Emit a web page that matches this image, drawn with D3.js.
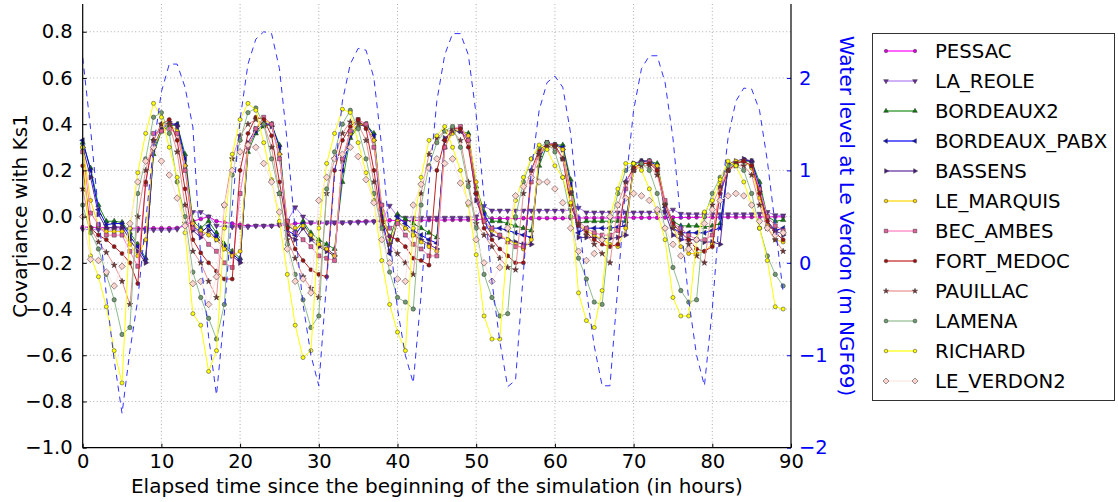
<!DOCTYPE html>
<html><head><meta charset="utf-8">
<script src="https://cdn.jsdelivr.net/npm/d3@7"></script>
<style>body{margin:0;background:#fff}svg{display:block}text{font-family:"DejaVu Sans",sans-serif}</style>
</head><body><svg id="c" width="1118" height="502"></svg>
<script>
const hours = d3.range(0, 90);
const xTicks = [0,10,20,30,40,50,60,70,80,90];
const yTicks = [-1.0,-0.8,-0.6,-0.4,-0.2,0.0,0.2,0.4,0.6,0.8];
const yTicksRight = [-2,-1,0,1,2];
const names = ["PESSAC","LA_REOLE","BORDEAUX2","BORDEAUX_PABX","BASSENS","LE_MARQUIS","BEC_AMBES","FORT_MEDOC","PAUILLAC","LAMENA","RICHARD","LE_VERDON2"];

const PESSAC = [-0.045,-0.046,-0.047,-0.048,-0.048,-0.049,-0.05,-0.05,-0.05,-0.05,-0.05,-0.05,-0.049,-0.04,-0.02,-0.01,0.0,-0.02,-0.025,-0.03,-0.035,-0.04,-0.04,-0.04,-0.04,-0.038,-0.035,-0.03,-0.028,-0.028,-0.028,-0.028,-0.028,-0.027,-0.025,-0.022,-0.02,-0.02,-0.02,-0.016,-0.017,-0.017,-0.016,-0.016,-0.015,-0.015,-0.015,-0.014,-0.014,-0.014,-0.013,-0.01,-0.008,-0.008,-0.008,-0.008,-0.007,-0.007,-0.007,-0.007,-0.007,-0.007,-0.007,-0.006,-0.006,-0.006,-0.006,-0.006,-0.005,-0.005,-0.005,-0.005,-0.005,-0.005,-0.004,-0.004,-0.004,-0.004,-0.003,-0.003,-0.003,-0.003,-0.002,-0.002,-0.002,-0.002,-0.002,-0.001,-0.001,-0.001];
const LA_REOLE = [-0.055,-0.056,-0.057,-0.058,-0.058,-0.058,-0.058,-0.058,-0.058,-0.058,-0.058,-0.058,-0.055,-0.03,0.02,0.02,0.0,-0.04,-0.045,-0.045,-0.045,-0.045,-0.04,-0.04,-0.04,-0.035,-0.02,0.04,0.0,-0.025,-0.025,-0.025,-0.025,-0.025,-0.025,-0.025,-0.025,-0.022,-0.02,0.047,0.0,-0.005,-0.005,-0.005,-0.005,-0.005,-0.005,-0.005,-0.005,-0.005,0.0,0.046,0.026,0.026,0.026,0.026,0.026,0.026,0.026,0.026,0.026,0.026,0.028,0.038,0.018,0.018,0.018,0.018,0.018,0.018,0.018,0.018,0.018,0.018,0.02,0.03,0.012,0.01,0.01,0.01,0.01,0.01,0.01,0.01,0.01,0.01,0.012,0.02,0.006,0.005];
const BORDEAUX2 = [0.32,0.21,0.05,-0.02,-0.02,-0.025,-0.07,-0.12,-0.18,0.27,0.37,0.39,0.40,0.27,-0.02,-0.05,-0.02,-0.07,-0.12,-0.15,-0.18,0.28,0.36,0.39,0.40,0.31,-0.04,-0.06,-0.02,-0.07,-0.10,-0.12,-0.14,0.15,0.34,0.39,0.40,0.36,0.03,-0.10,0.01,-0.01,-0.03,-0.05,-0.07,-0.09,0.30,0.37,0.37,0.36,0.13,0.02,-0.02,-0.02,-0.03,-0.04,-0.05,-0.06,0.22,0.31,0.31,0.31,0.16,-0.03,-0.02,-0.02,-0.02,-0.02,-0.02,-0.02,0.20,0.24,0.24,0.23,0.06,-0.02,-0.04,-0.04,-0.04,-0.045,-0.04,-0.03,0.20,0.23,0.24,0.24,0.15,0.00,-0.02,-0.015];
const BORDEAUX_PABX = [0.33,0.20,0.03,-0.035,-0.03,-0.03,-0.085,-0.13,-0.19,0.29,0.375,0.40,0.40,0.25,-0.04,-0.07,-0.04,-0.085,-0.13,-0.16,-0.19,0.30,0.37,0.40,0.40,0.30,-0.06,-0.08,-0.03,-0.085,-0.12,-0.14,-0.165,0.20,0.35,0.40,0.40,0.35,0.00,-0.16,0.00,-0.03,-0.06,-0.08,-0.10,-0.115,0.33,0.37,0.37,0.35,0.10,0.01,-0.05,-0.05,-0.06,-0.07,-0.08,-0.09,0.25,0.32,0.31,0.30,0.14,-0.07,-0.05,-0.05,-0.05,-0.05,-0.045,-0.04,0.22,0.24,0.24,0.22,0.04,-0.05,-0.07,-0.07,-0.07,-0.07,-0.06,-0.05,0.22,0.23,0.245,0.24,0.13,-0.02,-0.06,-0.05];
const BASSENS = [0.30,0.17,0.01,-0.05,-0.045,-0.045,-0.10,-0.15,-0.20,0.30,0.38,0.41,0.39,0.22,-0.06,-0.09,-0.06,-0.10,-0.14,-0.17,-0.20,0.32,0.38,0.41,0.39,0.27,-0.08,-0.10,-0.05,-0.10,-0.13,-0.15,-0.17,0.24,0.36,0.40,0.39,0.33,-0.03,-0.15,-0.02,-0.05,-0.08,-0.10,-0.12,-0.14,0.34,0.37,0.37,0.33,0.07,-0.02,-0.08,-0.09,-0.10,-0.11,-0.12,-0.12,0.26,0.32,0.31,0.29,0.11,-0.09,-0.09,-0.09,-0.095,-0.095,-0.09,-0.08,0.23,0.24,0.24,0.21,0.02,-0.08,-0.10,-0.10,-0.10,-0.11,-0.11,-0.12,0.23,0.24,0.25,0.24,0.11,-0.04,-0.06,-0.08];
const LE_MARQUIS = [0.30,0.07,-0.04,-0.065,-0.065,-0.065,-0.12,-0.17,-0.10,0.30,0.37,0.40,0.37,0.22,-0.03,-0.06,-0.08,-0.10,-0.14,-0.17,-0.15,0.30,0.38,0.42,0.40,0.27,-0.02,-0.05,-0.04,-0.08,-0.12,-0.14,-0.17,0.25,0.36,0.40,0.40,0.33,0.05,-0.12,-0.02,-0.05,-0.08,-0.11,-0.13,-0.15,0.30,0.36,0.38,0.35,0.15,-0.02,-0.06,-0.08,-0.10,-0.12,-0.14,-0.10,0.27,0.31,0.31,0.29,0.12,-0.03,-0.06,-0.08,-0.10,-0.12,-0.13,-0.05,0.21,0.23,0.23,0.22,0.06,-0.04,-0.13,-0.16,-0.16,-0.15,-0.12,0.15,0.21,0.24,0.24,0.21,0.08,-0.04,-0.10,-0.11];
const BEC_AMBES = [0.28,0.015,-0.035,-0.08,-0.08,-0.08,-0.15,-0.215,0.14,0.36,0.37,0.38,0.36,0.20,-0.05,-0.075,-0.12,-0.15,-0.20,-0.22,0.10,0.30,0.38,0.43,0.40,0.25,-0.02,-0.07,-0.10,-0.13,-0.17,-0.18,-0.19,0.25,0.37,0.42,0.40,0.30,0.05,-0.05,-0.03,-0.08,-0.12,-0.14,-0.17,-0.17,0.30,0.38,0.39,0.33,0.10,-0.02,-0.05,-0.08,-0.11,-0.13,-0.13,0.15,0.28,0.32,0.31,0.25,0.10,-0.02,-0.05,-0.07,-0.08,-0.08,-0.06,0.12,0.20,0.23,0.24,0.20,0.07,-0.03,-0.05,-0.08,-0.10,-0.10,-0.08,0.12,0.20,0.23,0.24,0.22,0.12,0.00,-0.04,-0.06];
const FORT_MEDOC = [0.22,-0.05,-0.08,-0.10,-0.13,-0.16,-0.20,-0.29,0.15,0.33,0.40,0.42,0.33,0.12,-0.10,-0.157,-0.20,-0.236,-0.27,-0.27,0.20,0.36,0.43,0.42,0.35,0.15,-0.05,-0.14,-0.19,-0.23,-0.25,-0.26,0.20,0.33,0.39,0.42,0.38,0.20,-0.02,-0.085,-0.10,-0.13,-0.18,-0.19,-0.21,0.20,0.33,0.38,0.38,0.30,0.10,-0.05,-0.10,-0.14,-0.17,-0.20,-0.20,0.20,0.29,0.31,0.31,0.25,0.05,-0.04,-0.07,-0.10,-0.12,-0.13,-0.12,0.15,0.21,0.23,0.23,0.20,0.05,-0.03,-0.07,-0.10,-0.14,-0.15,-0.13,0.10,0.20,0.23,0.24,0.22,0.10,-0.02,-0.07,-0.10];
const PAUILLAC = [0.12,-0.05,-0.11,-0.155,-0.21,-0.28,-0.38,0.00,0.20,0.33,0.40,0.40,0.28,0.05,-0.15,-0.20,-0.28,-0.35,0.05,0.25,0.35,0.40,0.42,0.40,0.30,0.10,-0.10,-0.18,-0.26,-0.31,-0.35,0.10,0.25,0.36,0.41,0.40,0.33,0.15,-0.05,-0.12,-0.16,-0.20,-0.25,0.10,0.27,0.34,0.37,0.37,0.33,0.15,-0.03,-0.08,-0.13,-0.18,-0.22,-0.23,0.10,0.20,0.27,0.30,0.30,0.25,0.10,-0.03,-0.08,-0.12,-0.16,-0.20,0.05,0.15,0.20,0.22,0.22,0.18,0.05,-0.05,-0.08,-0.12,-0.17,-0.20,0.05,0.13,0.20,0.22,0.22,0.18,0.05,-0.05,-0.10,-0.15];
const LAMENA = [0.05,-0.07,-0.14,-0.25,-0.36,-0.51,-0.48,0.10,0.25,0.43,0.45,0.36,0.15,0.0,-0.24,-0.35,-0.44,-0.53,-0.38,0.18,0.33,0.45,0.47,0.40,0.25,0.10,-0.12,-0.25,-0.36,-0.48,-0.43,0.12,0.28,0.40,0.46,0.38,0.25,0.10,-0.05,-0.24,-0.35,-0.37,-0.40,0.05,0.22,0.32,0.37,0.39,0.30,0.13,-0.05,-0.25,-0.35,-0.43,-0.42,0.00,0.15,0.25,0.30,0.32,0.28,0.17,0.00,-0.18,-0.27,-0.37,-0.38,-0.05,0.10,0.20,0.23,0.23,0.20,0.10,-0.05,-0.22,-0.32,-0.37,-0.36,0.00,0.10,0.17,0.22,0.22,0.20,0.10,-0.05,-0.17,-0.25,-0.30];
const RICHARD = [0.30,-0.17,-0.26,-0.39,-0.58,-0.72,-0.05,0.19,0.36,0.49,0.43,0.30,0.17,-0.07,-0.42,-0.47,-0.67,-0.58,-0.05,0.27,0.42,0.49,0.46,0.32,0.16,-0.02,-0.25,-0.47,-0.61,-0.58,-0.05,0.23,0.36,0.465,0.45,0.32,0.19,0.07,-0.19,-0.38,-0.50,-0.58,-0.05,0.17,0.33,0.35,0.39,0.30,0.20,0.05,-0.165,-0.43,-0.53,-0.53,-0.10,0.07,0.17,0.25,0.31,0.29,0.22,0.17,0.06,-0.33,-0.45,-0.48,-0.32,0.00,0.12,0.23,0.23,0.20,0.12,0.02,-0.10,-0.35,-0.43,-0.43,-0.10,0.02,0.07,0.16,0.24,0.22,0.15,0.05,-0.05,-0.19,-0.39,-0.40];
const LE_VERDON2 = [0.00,-0.185,-0.19,-0.24,-0.30,-0.215,-0.03,0.15,0.24,0.30,0.24,0.18,0.08,-0.04,-0.29,-0.28,-0.38,-0.26,0.05,0.20,0.28,0.31,0.30,0.23,0.15,0.02,-0.14,-0.28,-0.27,-0.33,0.07,0.17,0.25,0.27,0.30,0.26,0.16,0.06,-0.10,-0.20,-0.27,-0.28,0.05,0.14,0.21,0.25,0.23,0.25,0.145,0.06,-0.10,-0.20,-0.28,-0.22,-0.05,0.09,0.13,0.17,0.15,0.15,0.12,0.06,-0.05,-0.15,-0.19,-0.16,-0.10,0.00,0.05,0.08,0.10,0.09,0.07,0.03,-0.05,-0.12,-0.17,-0.14,-0.10,-0.03,0.03,0.07,0.09,0.10,0.09,0.05,-0.02,-0.05,-0.08,-0.07];
const WATER_LEVEL = [2.22,1.45,0.55,-0.35,-1.05,-1.63,-0.95,-0.4,0.45,1.25,1.85,2.15,2.15,1.9,1.47,0.05,-0.8,-1.43,-0.55,0.6,1.55,2.15,2.42,2.5,2.48,2.1,1.3,0.35,-0.45,-1.0,-1.33,-0.2,0.95,1.75,2.15,2.32,2.3,2.0,1.25,0.3,-0.5,-1.0,-1.30,-0.35,0.85,1.75,2.25,2.48,2.48,2.25,1.6,0.7,-0.2,-0.85,-1.34,-1.27,-0.1,1.0,1.65,1.95,2.02,1.9,1.4,0.55,-0.3,-0.9,-1.33,-1.33,-0.25,0.85,1.65,2.1,2.24,2.24,1.95,1.35,0.45,-0.4,-1.0,-1.33,-0.5,0.6,1.35,1.75,1.89,1.88,1.65,1.1,0.4,-0.32];

const seriesValues = [PESSAC,LA_REOLE,BORDEAUX2,BORDEAUX_PABX,BASSENS,LE_MARQUIS,BEC_AMBES,FORT_MEDOC,PAUILLAC,LAMENA,RICHARD,LE_VERDON2];
const styles = [
  {line:"#ff00ff", fill:"#dd00dd", m:"circle", s:12},
  {line:"#b07cf0", fill:"#6a2ca0", m:"tdown", s:12},
  {line:"#1a8c1a", fill:"#0a7a0a", m:"tup", s:12},
  {line:"#0000ff", fill:"#1010c0", m:"tleft", s:12},
  {line:"#5a2a9a", fill:"#4b1a80", m:"tright", s:12},
  {line:"#ffd700", fill:"#ffd700", m:"circle", s:13},
  {line:"#ff7ac0", fill:"#e0609a", m:"square", s:16},
  {line:"#c02020", fill:"#a01010", m:"circle", s:13},
  {line:"#e89090", fill:"#7a3030", m:"star", s:11},
  {line:"#8fbc8f", fill:"#6f9a6f", m:"circle", s:15},
  {line:"#ffff00", fill:"#ffff00", m:"circle", s:13},
  {line:"#ffe4e4", fill:"#ffd5d0", m:"diamond", s:22}
];

const svg = d3.select("#c");
const L = 82.7, R = 791, T = 4, B = 447.7;
const x = d3.scaleLinear().domain([0,90]).range([L,R]);
const y = d3.scaleLinear().domain([-1.0,0.92]).range([B,T]);
const y2 = d3.scaleLinear().domain([-2,2.8]).range([B,T]);

// grid
const grid = svg.append("g").attr("stroke","#999").attr("stroke-width",0.8).attr("stroke-dasharray","1,2.5");
xTicks.forEach(t=>{ if(t>0&&t<90) grid.append("line").attr("x1",x(t)).attr("x2",x(t)).attr("y1",T).attr("y2",B); });
yTicks.forEach(t=>{ if(t>-1) grid.append("line").attr("x1",L).attr("x2",R).attr("y1",y(t)).attr("y2",y(t)); });

function symbolPath(kind, size){
  let type = d3.symbolCircle, rot = 0;
  if(kind==="tup") type=d3.symbolTriangle;
  if(kind==="tdown"){type=d3.symbolTriangle; rot=180;}
  if(kind==="tleft"){type=d3.symbolTriangle; rot=-90;}
  if(kind==="tright"){type=d3.symbolTriangle; rot=90;}
  if(kind==="square") type=d3.symbolSquare;
  if(kind==="diamond"){type=d3.symbolSquare; rot=45;}
  if(kind==="star") type=d3.symbolStar;
  return {d: d3.symbol().type(type).size(size)(), rot};
}

const lineGen = d3.line().x((d,i)=>x(hours[i])).y(d=>y(d));
const plot = svg.append("g");
seriesValues.forEach((vals,k)=>{
  const st = styles[k];
  const g = plot.append("g");
  g.append("path").attr("d",lineGen(vals)).attr("fill","none").attr("stroke",st.line).attr("stroke-width",1);
  const sp = symbolPath(st.m, st.s);
  g.selectAll("path.m").data(vals).enter().append("path").attr("class","m")
    .attr("d",sp.d)
    .attr("transform",(d,i)=>`translate(${x(hours[i])},${y(d)}) rotate(${sp.rot})`)
    .attr("fill",st.fill).attr("stroke","#333").attr("stroke-width",0.5);
});

// water level
const wl = d3.line().x((d,i)=>x(hours[i])).y(d=>y2(d));
svg.append("path").attr("d",wl(WATER_LEVEL)).attr("fill","none").attr("stroke","#3333ff").attr("stroke-width",1).attr("stroke-dasharray","6,5");

// axes
const fmt = d=> (d<0?"\u2212":"") + Math.abs(d).toFixed(1);
const axL = d3.axisLeft(y).tickValues(yTicks).tickFormat(fmt).tickSize(-4).tickPadding(10);
const gL = svg.append("g").attr("transform",`translate(${L},0)`).call(axL);
gL.select(".domain").remove();
gL.selectAll("text").attr("font-size",19.5).attr("fill","#000").attr("font-family","DejaVu Sans");
gL.selectAll("line").attr("stroke","#000");

const axB = d3.axisBottom(x).tickValues(xTicks).tickFormat(d3.format("d")).tickSize(-4).tickPadding(6);
const gB = svg.append("g").attr("transform",`translate(0,${B})`).call(axB);
gB.select(".domain").remove();
gB.selectAll("text").attr("font-size",19.5).attr("fill","#000").attr("font-family","DejaVu Sans");
gB.selectAll("line").attr("stroke","#000");

const axR = d3.axisRight(y2).tickValues(yTicksRight).tickFormat(d=> (d<0?"\u2212":"")+Math.abs(d)).tickSize(-4).tickPadding(8);
const gR = svg.append("g").attr("transform",`translate(${R},0)`).call(axR);
gR.select(".domain").remove();
gR.selectAll("text").attr("font-size",19.5).attr("fill","#0000ff").attr("font-family","DejaVu Sans");
gR.selectAll("line").attr("stroke","#0000ff");

svg.append("line").attr("x1",L).attr("x2",L).attr("y1",T).attr("y2",B).attr("stroke","#000").attr("stroke-width",1.2);
svg.append("line").attr("x1",R).attr("x2",R).attr("y1",T).attr("y2",B).attr("stroke","#000").attr("stroke-width",1.2);
svg.append("line").attr("x1",L).attr("x2",R).attr("y1",B).attr("y2",B).attr("stroke","#000").attr("stroke-width",1.2);

// labels
svg.append("text").attr("x",(L+R)/2).attr("y",493).attr("text-anchor","middle").attr("font-size",20).text("Elapsed time since the beginning of the simulation (in hours)");
svg.append("text").attr("transform",`translate(27,216) rotate(-90)`).attr("text-anchor","middle").attr("font-size",20).text("Covariance with Ks1");
svg.append("text").attr("transform",`translate(840,216) rotate(90)`).attr("text-anchor","middle").attr("font-size",20).attr("fill","#0000ff").text("Water level at Le Verdon (m NGF69)");

// legend
const lg = svg.append("g");
lg.append("rect").attr("x",872.5).attr("y",33.5).attr("width",242).attr("height",367).attr("fill","#fff").attr("stroke","#333").attr("stroke-width",1);
names.forEach((n,k)=>{
  const st = styles[k];
  const yy = 51 + 30*k;
  lg.append("line").attr("x1",886).attr("x2",915).attr("y1",yy).attr("y2",yy).attr("stroke",st.line).attr("stroke-width",1.2);
  const sp = symbolPath(st.m, st.s*0.8);
  [886,915].forEach(xx=>{
    lg.append("path").attr("d",sp.d).attr("transform",`translate(${xx},${yy}) rotate(${sp.rot})`).attr("fill",st.fill).attr("stroke","#333").attr("stroke-width",0.5);
  });
  lg.append("text").attr("x",935).attr("y",yy+7).attr("font-size",19.7).text(n);
});
</script></body></html>
